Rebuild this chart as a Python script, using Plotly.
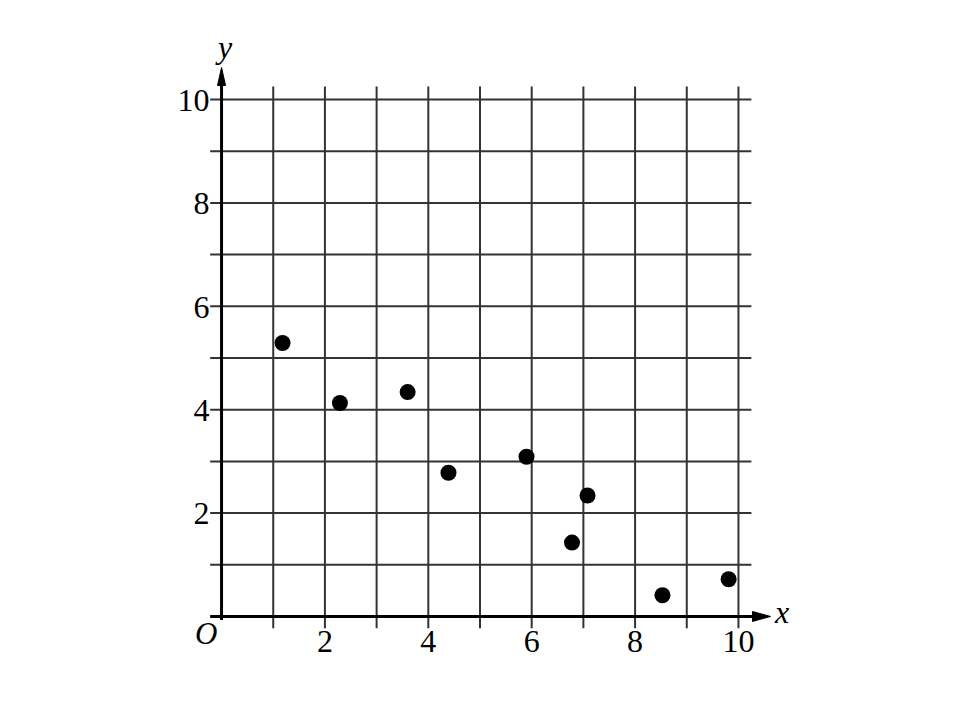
import plotly.graph_objects as go

# data
x_vals = [1.18, 2.29, 3.60, 4.39, 5.90, 7.08, 6.78, 8.53, 9.81]
y_vals = [5.29, 4.13, 4.34, 2.78, 3.09, 2.34, 1.43, 0.41, 0.72]
tick_vals = [2, 4, 6, 8, 10]
tick_text = ["2", "4", "6", "8", "10"]
grid_vals = [1, 2, 3, 4, 5, 6, 7, 8, 9, 10]

FONT = "Liberation Serif, Times New Roman, serif"
lo, hi = -1.5, 11.5
pos0 = (0 - lo) / (hi - lo)

fig = go.Figure()
fig.add_trace(go.Scatter(
    x=x_vals, y=y_vals, mode="markers",
    marker=dict(size=16, color="black"),
    showlegend=False, cliponaxis=False,
))

shapes = []
grid_line = dict(color="#333333", width=2)
for g in grid_vals:
    shapes.append(dict(type="line", xref="x", yref="y", x0=g, x1=g, y0=-0.23, y1=10.25,
                       line=grid_line, layer="below"))
    shapes.append(dict(type="line", xref="x", yref="y", x0=-0.22, x1=10.25, y0=g, y1=g,
                       line=grid_line, layer="below"))
# axes
shapes.append(dict(type="line", xref="x", yref="y", x0=-0.22, x1=10.4, y0=0, y1=0,
                   line=dict(color="black", width=3)))
shapes.append(dict(type="line", xref="x", yref="y", x0=0, x1=0, y0=-0.07, y1=10.35,
                   line=dict(color="black", width=3)))
# arrowheads
shapes.append(dict(type="path", xref="x", yref="y", xsizemode="pixel", ysizemode="pixel",
                   xanchor=10.62, yanchor=0, path="M0,0 L-18,5 L-18,-5 Z",
                   fillcolor="black", line=dict(color="black", width=1)))
shapes.append(dict(type="path", xref="x", yref="y", xsizemode="pixel", ysizemode="pixel",
                   xanchor=0, yanchor=10.62, path="M0,0 L-4,-18 L4,-18 Z",
                   fillcolor="black", line=dict(color="black", width=1)))

annotations = [
    dict(x=10.83, y=0, xref="x", yref="y", text="<i>x</i>", showarrow=False,
         font=dict(family=FONT, size=32, color="black"), yshift=4),
    dict(x=0.04, y=11.02, xref="x", yref="y", text="<i>y</i>", showarrow=False,
         font=dict(family=FONT, size=32, color="black")),
    dict(x=-0.3, y=-0.32, xref="x", yref="y", text="<i>O</i>", showarrow=False,
         font=dict(family=FONT, size=31, color="black")),
]

fig.update_layout(
    width=976, height=712,
    margin=dict(l=136, r=168, t=14, b=26),
    paper_bgcolor="white", plot_bgcolor="white",
    shapes=shapes, annotations=annotations,
    xaxis=dict(range=[lo, hi], showgrid=False, zeroline=False, showline=False,
               tickvals=tick_vals, ticktext=tick_text, ticks="",
               anchor="free", position=pos0, ticklabelstandoff=3,
               tickfont=dict(family=FONT, size=32, color="black")),
    yaxis=dict(range=[lo, hi], showgrid=False, zeroline=False, showline=False,
               tickvals=tick_vals, ticktext=tick_text, ticks="",
               anchor="free", position=pos0, ticklabelstandoff=12,
               tickfont=dict(family=FONT, size=32, color="black")),
)

fig.write_html("out.html")
